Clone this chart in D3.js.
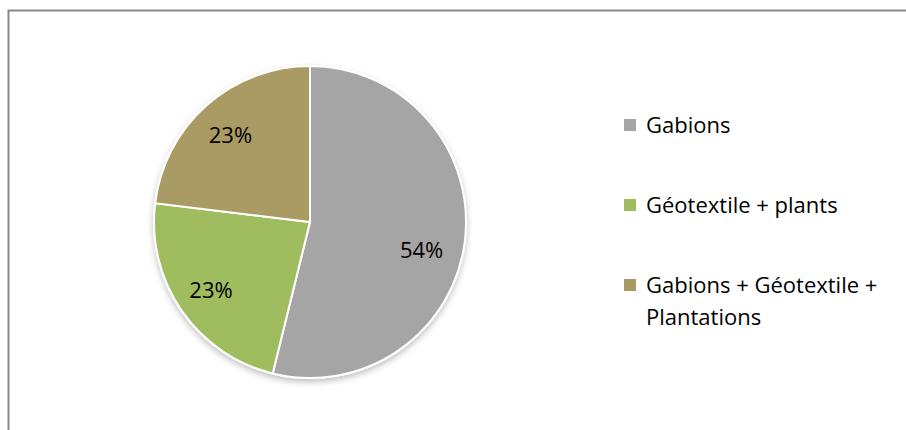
<!DOCTYPE html>
<html>
<head>
<meta charset="utf-8">
<title>Pie chart</title>
<script src="https://cdnjs.cloudflare.com/ajax/libs/d3/7.8.5/d3.min.js"></script>
<style>
	html, body {
		margin: 0px;
		background: #fff;
	}
	text {
		font-family: "Open Sans", "Noto Sans", sans-serif;
		fill: #000;
	}
</style>
</head>
<body>
<div id="chart"></div>
<script type="text/javascript">

var categories = ["Gabions", "Géotextile + plants", "Gabions + Géotextile + Plantations"];
var legendLines = [["Gabions"], ["Géotextile + plants"], ["Gabions + Géotextile +", "Plantations"]];
var values = [7, 3, 3];
var colors = ["#A5A5A5", "#9FBD5E", "#A99B63"];

var width = 906, height = 430;
var cx = 310, cy = 222, radius = 156;

var svg = d3.select("#chart").append("svg")
	.attr("width", width)
	.attr("height", height);

// chart frame, cut off at right and bottom like the original
svg.append("rect")
	.attr("x", 8.5).attr("y", 10.5)
	.attr("width", width).attr("height", height)
	.style("fill", "none")
	.style("stroke", "#8a8a8a")
	.style("stroke-width", 2);

var defs = svg.append("defs");
var shadow = defs.append("filter").attr("id", "shadow")
	.attr("x", "-10%").attr("y", "-10%").attr("width", "120%").attr("height", "125%");
shadow.append("feDropShadow")
	.attr("dx", 0).attr("dy", 3).attr("stdDeviation", 3)
	.attr("flood-color", "#000").attr("flood-opacity", 0.25);

var total = d3.sum(values);
var pct = d3.format(".0%");

var pie = d3.pie().sort(null).value(function(d) { return d; });
var arcs = pie(values);

var arc = d3.arc().innerRadius(0).outerRadius(radius);
var labelArc = d3.arc().innerRadius(radius * 0.74).outerRadius(radius * 0.74);

var g = svg.append("g").attr("transform", "translate(" + cx + "," + cy + ")");

g.append("g").attr("filter", "url(#shadow)")
	.selectAll("path")
	.data(arcs)
	.enter()
	.append("path")
	.attr("d", arc)
	.style("fill", function(d, i) { return colors[i]; })
	.style("stroke", "#fff")
	.style("stroke-width", 2);

// excel "best fit" pushes the big label a little lower
var nudge = [[-3, 14], [-4, 3], [-3, 0]];

g.selectAll("text.label")
	.data(arcs)
	.enter()
	.append("text")
	.attr("class", "label")
	.attr("transform", function(d, i) {
		var c = labelArc.centroid(d);
		return "translate(" + (c[0] + nudge[i][0]) + "," + (c[1] + nudge[i][1]) + ")";
	})
	.attr("text-anchor", "middle")
	.attr("dy", "0.35em")
	.style("font-size", "22px")
	.text(function(d) { return pct(d.value / total); });

// legend
var legendY = d3.scalePoint().domain(categories).range([125, 285]);

var legend = svg.append("g").selectAll("g")
	.data(categories)
	.enter()
	.append("g")
	.attr("transform", function(d) { return "translate(624," + legendY(d) + ")"; });

legend.append("rect")
	.attr("x", 0).attr("y", -6)
	.attr("width", 12).attr("height", 12)
	.style("fill", function(d, i) { return colors[i]; });

legend.append("text")
	.attr("y", 8)
	.style("font-size", "22px")
	.selectAll("tspan")
	.data(function(d, i) { return legendLines[i]; })
	.enter()
	.append("tspan")
	.attr("x", 22)
	.attr("dy", function(d, j) { return j === 0 ? 0 : 32; })
	.text(function(d) { return d; });

</script>
</body>
</html>
